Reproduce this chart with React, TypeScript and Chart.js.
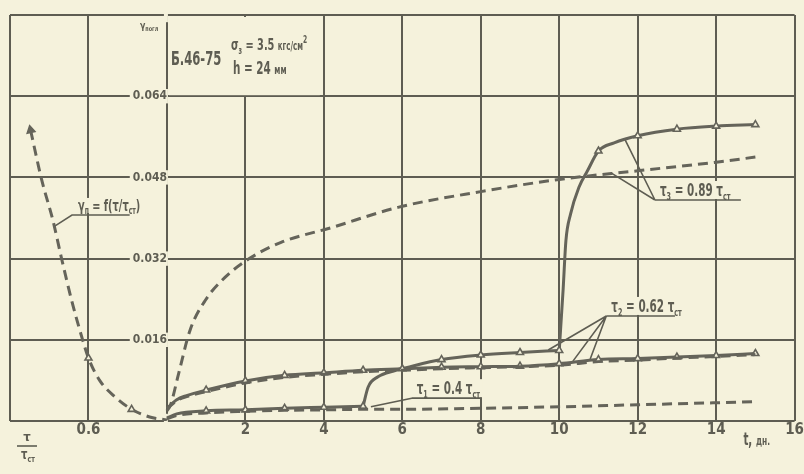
import React, { useEffect, useRef } from 'react';
import { Chart, registerables } from 'chart.js';

Chart.register(...registerables);

// ---------- data ----------
// left branch: gamma_n = f(tau / tau_st)  (x in tau/tau_st units)
const gammaTau = [0.305, 0.361, 0.419, 0.463, 0.514, 0.571, 0.6, 0.657, 0.734, 0.82, 0.912, 1.0];
const gammaVal = [0.0573, 0.0476, 0.0395, 0.032, 0.0238, 0.0159, 0.0124, 0.008, 0.0048, 0.0023, 0.0008, 0.0002];
const gammaMarks = [0.6, 0.82];

// theoretical tau3 (upper dashed)
const dash3T = [0, 0.09, 0.3, 0.59, 0.98, 1.48, 2.08, 2.91, 4.19, 5.89, 8.0, 10.0, 12.0, 14.0, 15.0];
const dash3V = [0.002, 0.0031, 0.0094, 0.0179, 0.0238, 0.0283, 0.0319, 0.0352, 0.0381, 0.0421, 0.0452, 0.0476, 0.0493, 0.051, 0.052];

// tau2 experimental (solid) and theoretical (dashed), from t = 0
const curve2T = [0, 0.25, 0.5, 1, 2, 3, 4, 5, 6, 7, 8, 9, 10, 11, 12, 13, 14, 15];
const curve2V = [0.0025, 0.0042, 0.005, 0.0061, 0.0079, 0.009, 0.0095, 0.01, 0.0103, 0.0106, 0.0107, 0.0108, 0.0113, 0.0121, 0.0123, 0.0126, 0.0129, 0.0133];
const dash2V = [0.0024, 0.004, 0.0048, 0.0058, 0.0075, 0.0086, 0.0092, 0.0097, 0.01, 0.0103, 0.0105, 0.0107, 0.011, 0.0117, 0.012, 0.0124, 0.0127, 0.0131];

// tau1 experimental (solid) t = 0..5
const curve1T = [0, 0.25, 1, 2, 3, 4, 5];
const curve1V = [0.0006, 0.0014, 0.002, 0.0022, 0.0025, 0.0027, 0.0029];

// tau1 theoretical (lower dashed)
const dash1T = [0, 0.25, 1, 2, 3, 4, 5, 6, 8, 10, 12, 14, 15];
const dash1V = [0.0004, 0.0011, 0.0016, 0.0019, 0.0021, 0.0022, 0.0023, 0.0023, 0.0025, 0.0028, 0.0032, 0.0036, 0.0038];

// step tau1 -> tau2 at t = 5
const step2T = [5, 5.13, 5.38, 5.8, 6.1, 7, 8, 9, 10];
const step2V = [0.0029, 0.0067, 0.0087, 0.0099, 0.0105, 0.0121, 0.013, 0.0135, 0.0139];

// step tau2 -> tau3 at t = 10
const step3T = [10, 10.1, 10.17, 10.29, 10.5, 10.72, 11, 11.4, 12, 13, 14, 15];
const step3V = [0.0139, 0.026, 0.0355, 0.0408, 0.046, 0.0493, 0.0532, 0.0548, 0.0562, 0.0575, 0.0581, 0.0584];

// ticks
const X_TICK_VALUES = [-2, 2, 4, 6, 8, 10, 12, 14, 16];
const X_TICK_LABELS = ['0.6', '2', '4', '6', '8', '10', '12', '14', '16'];
const Y_TICK_VALUES = [0.016, 0.032, 0.048, 0.064];
const Y_TICK_LABELS = ['0.016', '0.032', '0.048', '0.064'];

// ---------- styles ----------
const BG = '#f5f2dc';
const INK = '#5e5d52';
const CURVE = '#65645a';
const FONT = "'Liberation Sans Narrow', 'DejaVu Sans Condensed', 'Liberation Sans', sans-serif";
const SQUEEZE = 0.68;

const pts = (xs: number[], ys: number[]) => xs.map((x, i) => ({ x, y: ys[i] }));

type Seg = { t: string; sub?: boolean; sup?: boolean; small?: boolean };

function segFont(s: Seg, size: number) {
  const fs = s.sub || s.sup ? size * 0.62 : s.small ? size * 0.72 : size;
  return `bold ${fs}px ${FONT}`;
}

function drawSegs(ctx: CanvasRenderingContext2D, segs: Seg[], x: number, y: number, size: number, sq = SQUEEZE) {
  ctx.save();
  ctx.translate(x, y);
  ctx.scale(sq, 1);
  let cx = 0;
  for (const s of segs) {
    ctx.font = segFont(s, size);
    const dy = s.sub ? size * 0.22 : s.sup ? -size * 0.42 : 0;
    ctx.fillText(s.t, cx, dy);
    cx += ctx.measureText(s.t).width;
  }
  ctx.restore();
  return cx * sq;
}

function measureSegs(ctx: CanvasRenderingContext2D, segs: Seg[], size: number, sq = SQUEEZE) {
  let w = 0;
  ctx.save();
  for (const s of segs) {
    ctx.font = segFont(s, size);
    w += ctx.measureText(s.t).width;
  }
  ctx.restore();
  return w * sq;
}

const annotationPlugin = {
  id: 'annotations',
  beforeDraw(chart: any) {
    const { ctx, width, height } = chart;
    ctx.save();
    ctx.fillStyle = BG;
    ctx.fillRect(0, 0, width, height);
    ctx.restore();
  },
  beforeDatasetsDraw(chart: any) {
    const { ctx } = chart;
    const xs = chart.scales.x;
    const ys = chart.scales.y;
    const X = (v: number) => xs.getPixelForValue(v);
    const Y = (v: number) => ys.getPixelForValue(v);
    ctx.save();
    ctx.textBaseline = 'alphabetic';

    // header box (hides the t = 2 grid segment)
    ctx.fillStyle = BG;
    ctx.fillRect(X(0) + 2, Y(0.08) + 2, X(4) - X(0) - 6, Y(0.064) - Y(0.08) - 3);

    ctx.fillStyle = INK;
    ctx.strokeStyle = INK;
    ctx.lineWidth = 1.6;

    // y-axis title
    drawSegs(ctx, [{ t: 'γ' }, { t: 'погл', sub: true }], X(0) - 27, Y(0.08) + 14, 11, 0.8);

    // specimen info
    drawSegs(ctx, [{ t: 'Б.46-75' }], X(0) + 4, Y(0.08) + 50, 19);
    drawSegs(ctx, [{ t: 'σ' }, { t: 'з', sub: true }, { t: ' = 3.5 ' }, { t: 'кгс/см', small: true }, { t: '2', sup: true }], X(0) + 64, Y(0.08) + 35, 16);
    drawSegs(ctx, [{ t: 'h = 24 ' }, { t: 'мм', small: true }], X(0) + 66, Y(0.08) + 59, 17);

    const label = (segs: Seg[], ux1: number, uy: number, ux2: number, size: number, leaders: [number, number][]) => {
      const px1 = X(ux1), px2 = X(ux2), py = Y(uy);
      const w = measureSegs(ctx, segs, size);
      ctx.fillStyle = BG;
      ctx.fillRect(px1 + 3, py - size - 2, w + 4, size + 1);
      ctx.fillStyle = INK;
      drawSegs(ctx, segs, px1 + 5, py - 4, size);
      ctx.beginPath();
      ctx.moveTo(px1, py);
      ctx.lineTo(px2, py);
      for (const [lx, ly] of leaders) {
        ctx.moveTo(px1, py);
        ctx.lineTo(X(lx), Y(ly));
      }
      ctx.stroke();
    };

    // gamma_n = f(tau/tau_st)
    {
      const segs: Seg[] = [{ t: 'γ' }, { t: 'п', sub: true }, { t: ' = f(τ/τ' }, { t: 'ст', sub: true }, { t: ')' }];
      const sx = X(-2.42), sy = Y(0.0406);
      const w = measureSegs(ctx, segs, 16);
      ctx.fillStyle = BG;
      ctx.fillRect(sx + 4, sy - 17, w + 4, 15);
      ctx.fillStyle = INK;
      drawSegs(ctx, segs, sx + 6, sy - 4, 16);
      ctx.beginPath();
      ctx.moveTo(X(-2.86), Y(0.0384));
      ctx.lineTo(sx, sy);
      ctx.lineTo(X(-0.95), sy);
      ctx.stroke();
    }

    label([{ t: 'τ' }, { t: '3', sub: true }, { t: ' = 0.89 τ' }, { t: 'ст', sub: true }], 12.44, 0.04355, 14.63, 17,
      [[11.68, 0.0554], [11.32, 0.0489]]);
    label([{ t: 'τ' }, { t: '2', sub: true }, { t: ' = 0.62 τ' }, { t: 'ст', sub: true }], 11.2, 0.0207, 12.95, 17,
      [[9.72, 0.014], [10.35, 0.0118], [10.79, 0.0122]]);
    label([{ t: 'τ' }, { t: '1', sub: true }, { t: ' = 0.4 τ' }, { t: 'ст', sub: true }], 6.24, 0.0045, 7.99, 17,
      [[5.2, 0.0028]]);

    // axis title t, days
    drawSegs(ctx, [{ t: 't, ' }, { t: 'дн.', small: true }], X(15.0) - 12, Y(0) + 24, 17);

    // tau / tau_st fraction at bottom left
    ctx.textAlign = 'center';
    ctx.font = `bold 13px ${FONT}`;
    ctx.fillText('τ', 27, 441);
    ctx.beginPath();
    ctx.moveTo(17, 446);
    ctx.lineTo(37, 446);
    ctx.stroke();
    ctx.textAlign = 'left';
    drawSegs(ctx, [{ t: 'τ' }, { t: 'ст', sub: true }], 21, 459, 14, 0.8);

    ctx.restore();
  },
};

const isMark = (ctx: any) => {
  const raw = ctx.raw;
  return raw && ctx.dataIndex > 0 && Number.isInteger(raw.x);
};

export default function App() {
  const ref = useRef<HTMLCanvasElement>(null);

  useEffect(() => {
    if (!ref.current) return;
    const solid = (data: any[], withMarks: boolean) => ({
      data,
      borderColor: CURVE,
      borderWidth: 3,
      cubicInterpolationMode: 'monotone' as const,
      pointStyle: 'triangle',
      pointRadius: (c: any) => (withMarks && isMark(c) ? 4 : 0),
      pointBackgroundColor: BG,
      pointBorderColor: CURVE,
      pointBorderWidth: 1.6,
      xAxisID: 'x',
      yAxisID: 'y',
    });
    const dashed = (data: any[]) => ({
      data,
      borderColor: CURVE,
      borderWidth: 3,
      borderDash: [10, 6],
      cubicInterpolationMode: 'monotone' as const,
      pointRadius: 0,
      xAxisID: 'x',
      yAxisID: 'y',
    });

    const chart = new Chart(ref.current, {
      type: 'line',
      data: {
        datasets: [
          {
            data: pts(gammaTau, gammaVal),
            borderColor: CURVE,
            borderWidth: 3,
            borderDash: [10, 6],
            cubicInterpolationMode: 'monotone',
            pointStyle: 'triangle',
            pointRadius: (c: any) => (c.dataIndex === 0 ? 4.5 : gammaMarks.includes(c.raw?.x) ? 4 : 0),
            pointRotation: (c: any) => (c.dataIndex === 0 ? -12 : 0),
            pointBackgroundColor: (c: any) => (c.dataIndex === 0 ? CURVE : BG),
            pointBorderColor: CURVE,
            pointBorderWidth: 1.6,
            xAxisID: 'xTau',
            yAxisID: 'y',
          } as any,
          dashed(pts(dash3T, dash3V)),
          dashed(pts(curve2T, dash2V)),
          dashed(pts(dash1T, dash1V)),
          solid(pts(curve2T, curve2V), true),
          solid(pts(curve1T, curve1V), true),
          solid(pts(step2T, step2V), true),
          solid(pts(step3T, step3V), true),
        ],
      },
      options: {
        animation: false,
        responsive: false,
        devicePixelRatio: 1,
        parsing: false as any,
        layout: { padding: { left: 10, top: 15, right: 7, bottom: 0 } },
        plugins: { legend: { display: false }, tooltip: { enabled: false } },
        scales: {
          x: {
            type: 'linear',
            min: -4,
            max: 16,
            afterFit: (s: any) => { s.height = 53; },
            afterBuildTicks: (s: any) => {
              s.ticks = [-4, -2, 0, 2, 4, 6, 8, 10, 12, 14, 16].map((v) => ({ value: v }));
            },
            ticks: {
              autoSkip: false,
              maxRotation: 0,
              padding: 0,
              color: INK,
              font: { family: FONT, size: 15, weight: 'bold' },
              callback: (v: any) => {
                const i = X_TICK_VALUES.indexOf(Number(v));
                return i >= 0 ? X_TICK_LABELS[i] : '';
              },
            },
            grid: { color: INK, lineWidth: 2, drawTicks: false },
            border: { display: false },
          },
          xTau: {
            type: 'linear',
            display: false,
            min: 0.2,
            max: 4.2,
          },
          y: {
            type: 'linear',
            position: { x: 0 } as any,
            min: 0,
            max: 0.08,
            afterBuildTicks: (s: any) => {
              s.ticks = [0, 0.016, 0.032, 0.048, 0.064, 0.08].map((v) => ({ value: v }));
            },
            ticks: {
              padding: 3,
              color: INK,
              font: { family: FONT, size: 12, weight: 'bold' },
              showLabelBackdrop: true,
              backdropColor: BG,
              backdropPadding: { left: 3, right: 1, top: 0, bottom: 0 },
              callback: (v: any) => {
                const i = Y_TICK_VALUES.findIndex((t) => Math.abs(t - Number(v)) < 1e-9);
                return i >= 0 ? Y_TICK_LABELS[i] : '';
              },
            } as any,
            grid: { color: INK, lineWidth: 2, drawTicks: false },
            border: { display: false },
          },
        },
      },
      plugins: [annotationPlugin],
    });
    return () => chart.destroy();
  }, []);

  return (
    <div style={{ position: 'fixed', left: 0, top: 0, width: 804, height: 474, background: BG }}>
      <canvas ref={ref} width={804} height={474} style={{ display: 'block', width: 804, height: 474 }} />
    </div>
  );
}
